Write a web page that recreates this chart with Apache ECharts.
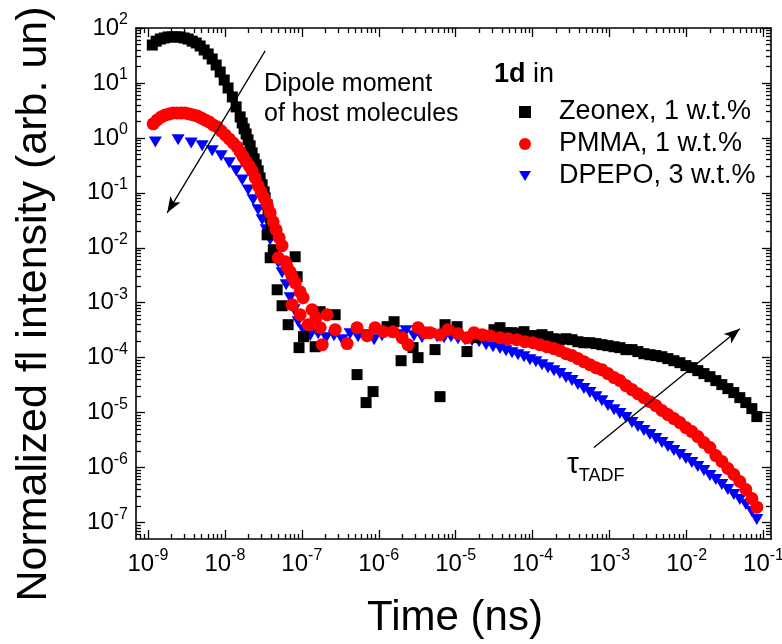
<!DOCTYPE html>
<html>
<head>
<meta charset="utf-8">
<script src="https://cdn.jsdelivr.net/npm/echarts@6/dist/echarts.min.js"></script>
<style>
  html, body { margin: 0; padding: 0; background: #fff; }
  #chart { width: 782px; height: 644px; }
</style>
</head>
<body>
<div id="chart"></div>
<script>
// Axis ranges (time in ns, normalized intensity)
const timeRange = [7e-10, 0.125];
const intensityRange = [5e-8, 100];
const timeDecades = [-9, -8, -7, -6, -5, -4, -3, -2, -1];
const intensityDecades = [-7, -6, -5, -4, -3, -2, -1, 0, 1, 2];

const seriesNames = ['Zeonex, 1 w.t.%', 'PMMA, 1 w.t.%', 'DPEPO, 3 w.t.%'];

// 1d in Zeonex, 1 w.t.%  — [time, intensity]
const zeonex = [
  [1.14e-9, 49], [1.28e-9, 57.6], [1.45e-9, 63], [1.63e-9, 65.8], [1.83e-9, 68.7],
  [2.07e-9, 68.7], [2.33e-9, 68.7], [2.63e-9, 68.7], [2.96e-9, 65.8], [3.33e-9, 63],
  [3.76e-9, 57.6], [4.24e-9, 53.4], [4.77e-9, 47.1], [5.38e-9, 39.8], [6.07e-9, 33.7],
  [6.84e-9, 27.3], [7.71e-9, 21.2], [8.69e-9, 15.8], [9.8e-9, 11.3], [1.1e-8, 8.1],
  [1.25e-8, 5.56], [1.4e-8, 3.66], [1.58e-8, 2.41], [1.68e-8, 1.87], [1.78e-8, 1.46],
  [1.89e-8, 1.18], [2.0e-8, 0.92], [2.13e-8, 0.716], [2.26e-8, 0.534], [2.40e-8, 0.415],
  [2.55e-8, 0.323], [2.71e-8, 0.251], [2.87e-8, 0.187], [3.05e-8, 0.14], [3.24e-8, 0.104],
  [3.34e-8, 0.081], [3.54e-8, 0.0605], [3.65e-8, 0.0471], [3.88e-8, 0.0351], [4.0e-8, 0.0262],
  [4.12e-8, 0.0195],
  [3.54e-8, 0.0172], [3.88e-8, 6.58e-3], [4.26e-8, 9.2e-3], [4.78e-8, 1.72e-3], [5.54e-8, 8.8e-4],
  [6.64e-8, 3.98e-4], [8.19e-8, 6.86e-3], [8.7e-8, 2.97e-3], [9.2e-8, 1.52e-4], [1.05e-7, 2.41e-4],
  [1.49e-7, 1.58e-4], [1.73e-7, 6.86e-4], [2.71e-7, 6.05e-4], [5.22e-7, 4.91e-5], [6.84e-7, 1.52e-5],
  [8.43e-7, 2.41e-5], [1.28e-6, 3.66e-4], [1.58e-6, 4.51e-4], [1.95e-6, 8.8e-5], [2.79e-6, 1.52e-4],
  [3.24e-6, 1.0e-4], [5.38e-6, 1.4e-4], [6.25e-6, 1.95e-5], [7.26e-6, 3.98e-4], [1.04e-5, 3.66e-4],
  [1.40e-5, 1.29e-4],
  [1.78e-5, 2.31e-4], [2.07e-5, 2.62e-4], [2.55e-5, 2.51e-4], [3.14e-5, 3.23e-4], [3.76e-5, 3.51e-4],
  [4.50e-5, 2.85e-4], [5.39e-5, 2.85e-4], [6.44e-5, 2.73e-4], [7.71e-5, 2.97e-4], [9.22e-5, 2.51e-4],
  [1.10e-4, 2.51e-4], [1.32e-4, 2.62e-4], [1.58e-4, 2.41e-4], [1.89e-4, 2.21e-4], [2.26e-4, 2.12e-4],
  [2.71e-4, 2.21e-4], [3.24e-4, 2.12e-4], [3.87e-4, 1.95e-4], [4.63e-4, 1.87e-4], [5.54e-4, 1.87e-4],
  [6.64e-4, 1.80e-4], [7.94e-4, 1.72e-4], [9.51e-4, 1.65e-4], [1.14e-3, 1.58e-4], [1.36e-3, 1.52e-4],
  [1.63e-3, 1.40e-4], [1.95e-3, 1.40e-4], [2.33e-3, 1.29e-4], [2.79e-3, 1.18e-4], [3.34e-3, 1.13e-4],
  [3.99e-3, 1.09e-4], [4.78e-3, 1.04e-4], [5.72e-3, 9.6e-5], [6.84e-3, 8.8e-5], [8.19e-3, 8.1e-5],
  [9.79e-3, 7.16e-5], [1.17e-2, 6.58e-5], [1.40e-2, 5.8e-5], [1.68e-2, 5.12e-5], [2.01e-2, 4.51e-5],
  [2.40e-2, 3.82e-5], [2.87e-2, 3.23e-5], [3.44e-2, 2.73e-5], [4.11e-2, 2.31e-5], [4.92e-2, 1.87e-5],
  [5.89e-2, 1.52e-5], [7.05e-2, 1.18e-5], [8.18e-2, 8.45e-6]
];

// 1d in PMMA, 1 w.t.%
const pmma = [
  [1.17e-9, 1.8], [1.32e-9, 2.12], [1.49e-9, 2.41], [1.68e-9, 2.62], [1.89e-9, 2.73],
  [2.13e-9, 2.85], [2.40e-9, 2.85], [2.71e-9, 2.85], [3.05e-9, 2.85], [3.44e-9, 2.73],
  [3.88e-9, 2.62], [4.37e-9, 2.51], [4.92e-9, 2.31], [5.54e-9, 2.12], [6.25e-9, 1.95],
  [7.05e-9, 1.72], [7.94e-9, 1.58], [8.95e-9, 1.34], [1.01e-8, 1.13], [1.14e-8, 0.959],
  [1.28e-8, 0.811], [1.44e-8, 0.686], [1.58e-8, 0.557], [1.73e-8, 0.451], [1.89e-8, 0.366],
  [2.07e-8, 0.31], [2.26e-8, 0.251], [2.48e-8, 0.187], [2.71e-8, 0.134], [2.96e-8, 0.104],
  [3.24e-8, 0.0811], [3.54e-8, 0.0605], [3.88e-8, 0.0433], [4.24e-8, 0.0297], [4.64e-8, 0.0212],
  [5.07e-8, 0.0152], [5.54e-8, 0.0109],
  [4.94e-8, 6.58e-3], [6.08e-8, 5.56e-3], [6.44e-8, 4.51e-3], [7.05e-8, 3.66e-3], [7.48e-8, 2.97e-3],
  [8.19e-8, 2.31e-3], [9.51e-8, 1.58e-3], [1.04e-7, 1.23e-3], [7.48e-8, 9.2e-4], [9.51e-8, 6.05e-4],
  [1.36e-7, 7.46e-4], [1.21e-7, 3.98e-4], [1.53e-7, 5.33e-4], [1.73e-7, 3.51e-4], [2.13e-7, 6.05e-4],
  [1.84e-7, 1.72e-4], [2.71e-7, 3.23e-4], [3.87e-7, 1.80e-4], [5.22e-7, 3.51e-4], [7.05e-7, 2.51e-4],
  [8.95e-7, 3.51e-4], [1.14e-6, 2.97e-4], [1.53e-6, 2.97e-4], [2.01e-6, 2.31e-4], [2.40e-6, 1.72e-4],
  [3.24e-6, 3.51e-4], [3.99e-6, 2.85e-4], [4.63e-6, 2.85e-4], [6.25e-6, 2.62e-4], [7.94e-6, 3.23e-4],
  [1.07e-5, 2.73e-4], [1.40e-5, 2.31e-4], [1.73e-5, 2.85e-4], [2.20e-5, 2.62e-4], [2.79e-5, 2.51e-4],
  [3.76e-5, 2.31e-4], [4.78e-5, 2.21e-4], [6.25e-5, 2.12e-4], [7.94e-5, 1.95e-4], [1.01e-4, 1.87e-4],
  [1.24e-4, 1.72e-4], [1.53e-4, 1.58e-4],
  [1.89e-4, 1.46e-4], [2.26e-4, 1.34e-4], [2.71e-4, 1.18e-4], [3.24e-4, 1.09e-4], [3.87e-4, 9.6e-5],
  [4.63e-4, 8.46e-5], [5.54e-4, 7.46e-5], [6.64e-4, 6.58e-5], [7.94e-4, 6.05e-5], [9.51e-4, 5.12e-5],
  [1.14e-3, 4.33e-5], [1.36e-3, 3.82e-5], [1.63e-3, 3.1e-5], [1.95e-3, 2.62e-5], [2.33e-3, 2.21e-5],
  [2.79e-3, 1.87e-5], [3.34e-3, 1.58e-5], [3.99e-3, 1.34e-5], [4.78e-3, 1.09e-5], [5.72e-3, 9.2e-6],
  [6.84e-3, 7.78e-6], [8.19e-3, 6.58e-6], [9.79e-3, 5.33e-6], [1.17e-2, 4.51e-6], [1.40e-2, 3.66e-6],
  [1.68e-2, 2.85e-6], [2.01e-2, 2.31e-6], [2.40e-2, 1.65e-6], [2.87e-2, 1.29e-6], [3.44e-2, 9.6e-7],
  [4.11e-2, 7.46e-7], [4.92e-2, 5.56e-7], [5.89e-2, 3.98e-7], [7.05e-2, 2.73e-7], [8.18e-2, 1.9e-7]
];

// 1d in DPEPO, 3 w.t.%
const dpepo = [
  [1.25e-9, 0.845], [2.47e-9, 0.92], [3.65e-9, 0.811], [5.07e-9, 0.716], [6.84e-9, 0.581],
  [8.95e-9, 0.471], [1.14e-8, 0.351], [1.40e-8, 0.251], [1.68e-8, 0.172], [2.01e-8, 0.113],
  [2.33e-8, 0.0746], [2.70e-8, 0.0491], [3.05e-8, 0.0323], [3.44e-8, 0.0212], [3.88e-8, 0.014],
  [4.37e-8, 8.46e-3], [4.94e-8, 5.33e-3], [5.54e-8, 3.51e-3], [6.25e-8, 2.12e-3], [7.05e-8, 1.23e-3],
  [7.94e-8, 7.46e-4], [8.95e-8, 4.51e-4], [1.04e-7, 3.23e-4], [1.28e-7, 2.51e-4], [1.63e-7, 2.73e-4],
  [2.07e-7, 2.31e-4], [2.62e-7, 2.51e-4], [3.34e-7, 2.12e-4], [4.24e-7, 2.73e-4], [5.38e-7, 2.41e-4],
  [6.84e-7, 2.62e-4], [8.69e-7, 2.12e-4], [1.10e-6, 2.51e-4], [1.40e-6, 2.85e-4], [1.78e-6, 2.62e-4],
  [2.26e-6, 3.1e-4], [2.87e-6, 2.51e-4], [3.65e-6, 2.31e-4], [4.63e-6, 2.73e-4], [5.72e-6, 2.41e-4],
  [7.05e-6, 2.31e-4], [8.69e-6, 2.41e-4], [1.07e-5, 2.21e-4], [1.32e-5, 2.12e-4], [1.63e-5, 2.04e-4],
  [2.01e-5, 1.95e-4], [2.48e-5, 1.72e-4], [3.05e-5, 1.58e-4], [3.76e-5, 1.46e-4], [4.50e-5, 1.34e-4],
  [5.39e-5, 1.23e-4], [6.44e-5, 1.13e-4], [7.71e-5, 1.04e-4], [9.22e-5, 9.2e-5], [1.10e-4, 8.46e-5],
  [1.32e-4, 7.46e-5], [1.58e-4, 6.58e-5], [1.89e-4, 5.8e-5], [2.26e-4, 5.12e-5], [2.71e-4, 4.33e-5],
  [3.24e-4, 3.82e-5], [3.87e-4, 3.23e-5], [4.63e-4, 2.73e-5], [5.54e-4, 2.31e-5], [6.64e-4, 1.95e-5],
  [7.94e-4, 1.65e-5], [9.51e-4, 1.34e-5], [1.14e-3, 1.13e-5], [1.36e-3, 9.6e-6], [1.63e-3, 8.1e-6],
  [1.95e-3, 6.58e-6], [2.33e-3, 5.56e-6], [2.79e-3, 4.71e-6], [3.34e-3, 3.98e-6], [3.99e-3, 3.37e-6],
  [4.78e-3, 2.85e-6], [5.72e-3, 2.41e-6], [6.84e-3, 2.04e-6], [8.19e-3, 1.72e-6], [9.79e-3, 1.46e-6],
  [1.17e-2, 1.23e-6], [1.40e-2, 1.04e-6], [1.68e-2, 8.8e-7], [2.01e-2, 7.16e-7], [2.40e-2, 6.05e-7],
  [2.87e-2, 4.91e-7], [3.44e-2, 3.98e-7], [4.11e-2, 3.23e-7], [4.92e-2, 2.62e-7], [5.89e-2, 2.12e-7],
  [7.05e-2, 1.58e-7], [8.18e-2, 1.13e-7]
];

// Annotation arrows, given in data units [time, intensity]
const dipoleArrow = [[3.34e-8, 38.2], [1.78e-9, 0.0433]];
const tadfArrow = [[6.25e-4, 2.31e-6], [4.92e-2, 3.37e-4]];

const FONT = '"Liberation Sans", Arial, Helvetica, sans-serif';
const downTriangle = 'path://M0,0L12,0L6,10Z';

const xExt = [Math.log10(timeRange[0]), Math.log10(timeRange[1])];
const yExt = [Math.log10(intensityRange[0]), Math.log10(intensityRange[1])];

// minor tick positions (2..9 within each decade), in exponent units
function minorPositions(ext) {
  const out = [];
  for (let n = Math.floor(ext[0]) - 1; n <= Math.ceil(ext[1]); n++) {
    for (let k = 2; k <= 9; k++) {
      const v = n + Math.log10(k);
      if (v > ext[0] + 1e-6 && v < ext[1] - 1e-6) out.push(v);
    }
  }
  return out;
}

const powerLabel = {
  show: true,
  formatter: v => '{b|10}{s|' + Math.round(v) + '}',
  rich: {
    b: { fontSize: 24, lineHeight: 32, fontFamily: FONT, color: '#000' },
    s: { fontSize: 16, lineHeight: 14, verticalAlign: 'top', fontFamily: FONT, color: '#000' }
  }
};

function frameAxis(ext, position, ticks, tickLen, showLine, labelValues, margin) {
  const axis = {
    type: 'value',
    position: position,
    min: ext[0],
    max: ext[1],
    silent: true,
    axisLine: { show: showLine, onZero: false, lineStyle: { color: '#000', width: 1.6 } },
    axisTick: { show: true, inside: true, length: tickLen, customValues: ticks,
                lineStyle: { color: '#000', width: 1.3 } },
    splitLine: { show: false },
    axisLabel: { show: false }
  };
  if (labelValues) {
    axis.axisLabel = Object.assign({}, powerLabel, { customValues: labelValues, margin: margin });
  }
  return axis;
}

const xMinor = minorPositions(xExt);
const yMinor = minorPositions(yExt);

const chart = echarts.init(document.getElementById('chart'), null, { renderer: 'canvas' });

const scatterBase = { type: 'scatter', xAxisIndex: 0, yAxisIndex: 0, silent: true, animation: false };

chart.setOption({
  animation: false,
  backgroundColor: '#fff',
  grid: { left: 136, top: 28, right: 11, bottom: 105, containLabel: false, outerBoundsMode: 'none' },
  xAxis: [
    { type: 'log', logBase: 10, min: timeRange[0], max: timeRange[1], show: false },
    frameAxis(xExt, 'bottom', timeDecades, 9, true, timeDecades, 9),
    frameAxis(xExt, 'bottom', xMinor, 5, false),
    frameAxis(xExt, 'top', timeDecades, 9, true),
    frameAxis(xExt, 'top', xMinor, 5, false)
  ],
  yAxis: [
    { type: 'log', logBase: 10, min: intensityRange[0], max: intensityRange[1], show: false },
    frameAxis(yExt, 'left', intensityDecades, 9, true, intensityDecades, 8),
    frameAxis(yExt, 'left', yMinor, 5, false),
    frameAxis(yExt, 'right', intensityDecades, 9, true),
    frameAxis(yExt, 'right', yMinor, 5, false)
  ],
  legend: {
    orient: 'vertical',
    left: 514,
    top: 93,
    itemWidth: 12,
    itemHeight: 12,
    itemGap: 4,
    selectedMode: false,
    textStyle: { fontSize: 27, lineHeight: 28, fontFamily: FONT, color: '#000', padding: [0, 0, 0, 23] },
    data: [
      { name: seriesNames[0], icon: 'rect', itemStyle: { opacity: 1 } },
      { name: seriesNames[1], icon: 'circle', itemStyle: { opacity: 1 } },
      { name: seriesNames[2], icon: downTriangle, itemStyle: { opacity: 1 } }
    ]
  },
  series: [
    Object.assign({}, scatterBase, {
      name: seriesNames[0], data: zeonex, symbol: 'rect', symbolSize: 11, z: 3,
      itemStyle: { color: '#000000', opacity: 1 },
      markLine: {
        silent: true, animation: false,
        symbol: ['none', 'arrow'], symbolSize: [9, 16],
        label: { show: false },
        lineStyle: { color: '#000', width: 1.3, type: 'solid', opacity: 1 },
        data: [
          [{ coord: dipoleArrow[0] }, { coord: dipoleArrow[1] }],
          [{ coord: tadfArrow[0] }, { coord: tadfArrow[1] }]
        ]
      }
    }),
    Object.assign({}, scatterBase, {
      name: seriesNames[1], data: pmma, symbol: 'circle', symbolSize: 13, z: 4,
      itemStyle: { color: '#ff0000', opacity: 1 }
    }),
    Object.assign({}, scatterBase, {
      name: seriesNames[2], data: dpepo, symbol: downTriangle, symbolSize: [13, 11], z: 2,
      itemStyle: { color: '#0000ff', opacity: 1 }
    })
  ],
  graphic: [
    {
      type: 'text', x: 34, y: 304, rotation: Math.PI / 2, silent: true,
      style: { text: 'Normalized fl intensity (arb. un)', fontSize: 43, fontFamily: FONT,
               fill: '#000', align: 'center', verticalAlign: 'middle' }
    },
    {
      type: 'text', x: 455, y: 618, silent: true,
      style: { text: 'Time (ns)', fontSize: 42, fontFamily: FONT, fill: '#000',
               align: 'center', verticalAlign: 'middle' }
    },
    {
      type: 'text', x: 264, y: 69, silent: true,
      style: { text: 'Dipole moment\nof host molecules', fontSize: 25, lineHeight: 30,
               fontFamily: FONT, fill: '#000', align: 'left', verticalAlign: 'top' }
    },
    {
      type: 'text', x: 494, y: 60, silent: true,
      style: {
        text: '{b|1d} in', fontSize: 27, lineHeight: 30, fontFamily: FONT, fill: '#000',
        align: 'left', verticalAlign: 'top',
        rich: { b: { fontWeight: 'bold', fontSize: 27, lineHeight: 30, fontFamily: FONT, fill: '#000' } }
      }
    },
    {
      type: 'text', x: 567, y: 445, silent: true,
      style: {
        text: '{t|τ}{s|TADF}', fontFamily: FONT, fill: '#000', align: 'left', verticalAlign: 'top',
        rich: {
          t: { fontSize: 30, lineHeight: 40, fontFamily: FONT, fill: '#000' },
          s: { fontSize: 18, lineHeight: 18, verticalAlign: 'bottom', fontFamily: FONT, fill: '#000' }
        }
      }
    }
  ]
});
</script>
</body>
</html>
